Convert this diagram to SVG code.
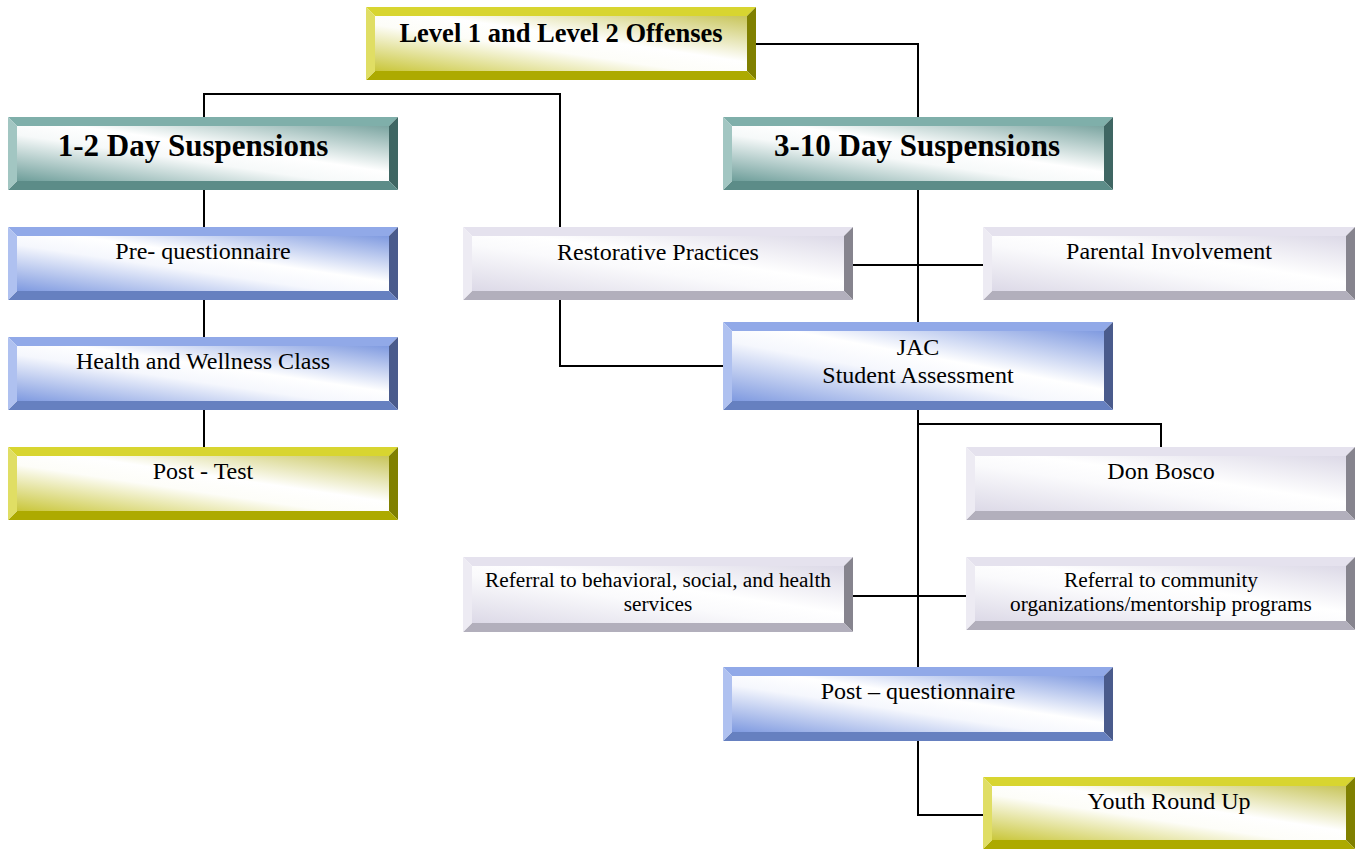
<svg xmlns="http://www.w3.org/2000/svg" width="1357" height="850" viewBox="0 0 1357 850">
<defs>
<linearGradient id="gY" x1="0" y1="1" x2="1" y2="0"><stop offset="0" stop-color="#C9C63A"/><stop offset="0.42" stop-color="#FDFDF8"/><stop offset="0.58" stop-color="#FFFFFF"/><stop offset="1" stop-color="#C8C55A"/></linearGradient>
<linearGradient id="gT" x1="0" y1="1" x2="1" y2="0"><stop offset="0" stop-color="#6E9E9A"/><stop offset="0.42" stop-color="#F6F9F9"/><stop offset="0.58" stop-color="#FFFFFF"/><stop offset="1" stop-color="#7BA5A1"/></linearGradient>
<linearGradient id="gB" x1="0" y1="1" x2="1" y2="0"><stop offset="0" stop-color="#7F9AE0"/><stop offset="0.42" stop-color="#F5F7FD"/><stop offset="0.58" stop-color="#FFFFFF"/><stop offset="1" stop-color="#7F9AE0"/></linearGradient>
<linearGradient id="gL" x1="0" y1="1" x2="1" y2="0"><stop offset="0" stop-color="#DCD9E7"/><stop offset="0.42" stop-color="#FAFAFC"/><stop offset="0.58" stop-color="#FFFFFF"/><stop offset="1" stop-color="#DCD9E7"/></linearGradient>
</defs>
<style>
.yel .t{fill:#D8D530}.yel .l{fill:#E0DE64}.yel .r{fill:#808000}.yel .b{fill:#ADAA00}.yel .i{fill:url(#gY)}
.teal .t{fill:#7FAFAA}.teal .l{fill:#A2C6C2}.teal .r{fill:#3F6663}.teal .b{fill:#5C8C88}.teal .i{fill:url(#gT)}
.blue .t{fill:#91A9E8}.blue .l{fill:#AFC1F0}.blue .r{fill:#4A5B8C}.blue .b{fill:#6680C0}.blue .i{fill:url(#gB)}
.lav .t{fill:#E5E2EE}.lav .l{fill:#EDEBF3}.lav .r{fill:#86848E}.lav .b{fill:#B2AFBC}.lav .i{fill:url(#gL)}
text{font-family:"Liberation Serif","Times New Roman",serif;fill:#000;text-anchor:middle}
.h1{font-size:31px;font-weight:bold}
.h2{font-size:26.5px;font-weight:bold}
.n{font-size:24px}
.s{font-size:21.3px}
.conn path{fill:none;stroke:#000;stroke-width:2}
</style>
<g class="conn" id="connectors">
<path d="M756,44 H918 V117"/>
<path d="M204,117 V94 H560 V227"/>
<path d="M204,190 V227"/>
<path d="M204,300 V337"/>
<path d="M204,410 V447"/>
<path d="M918,190 V322"/>
<path d="M853,265 H983"/>
<path d="M560,300 V366 H723"/>
<path d="M918,410 V667"/>
<path d="M918,424 H1161 V447"/>
<path d="M853,596 H966"/>
<path d="M918,741 V815 H983"/>
</g>
<g id="level" class="yel" transform="translate(366,7)">
<polygon class="t" points="0,0 390,0 381,9 9,9"/><polygon class="r" points="390,0 390,73 381,64 381,9"/><polygon class="b" points="0,73 390,73 381,64 9,64"/><polygon class="l" points="0,0 0,73 9,64 9,9"/><rect class="i" x="9" y="9" width="372" height="55"/>
<text class="h2" x="195" y="35">Level 1 and Level 2 Offenses</text>
</g>
<g id="day12" class="teal" transform="translate(8,117)">
<polygon class="t" points="0,0 390,0 381,9 9,9"/><polygon class="r" points="390,0 390,73 381,64 381,9"/><polygon class="b" points="0,73 390,73 381,64 9,64"/><polygon class="l" points="0,0 0,73 9,64 9,9"/><rect class="i" x="9" y="9" width="372" height="55"/>
<text class="h1" x="185" y="39">1-2 Day Suspensions</text>
</g>
<g id="day310" class="teal" transform="translate(723,117)">
<polygon class="t" points="0,0 390,0 381,9 9,9"/><polygon class="r" points="390,0 390,73 381,64 381,9"/><polygon class="b" points="0,73 390,73 381,64 9,64"/><polygon class="l" points="0,0 0,73 9,64 9,9"/><rect class="i" x="9" y="9" width="372" height="55"/>
<text class="h1" x="194" y="39">3-10 Day Suspensions</text>
</g>
<g id="preq" class="blue" transform="translate(8,227)">
<polygon class="t" points="0,0 390,0 381,9 9,9"/><polygon class="r" points="390,0 390,73 381,64 381,9"/><polygon class="b" points="0,73 390,73 381,64 9,64"/><polygon class="l" points="0,0 0,73 9,64 9,9"/><rect class="i" x="9" y="9" width="372" height="55"/>
<text class="n" x="195" y="32">Pre- questionnaire</text>
</g>
<g id="restorative" class="lav" transform="translate(463,227)">
<polygon class="t" points="0,0 390,0 381,9 9,9"/><polygon class="r" points="390,0 390,73 381,64 381,9"/><polygon class="b" points="0,73 390,73 381,64 9,64"/><polygon class="l" points="0,0 0,73 9,64 9,9"/><rect class="i" x="9" y="9" width="372" height="55"/>
<text class="n" x="195" y="33">Restorative Practices</text>
</g>
<g id="parental" class="lav" transform="translate(983,227)">
<polygon class="t" points="0,0 372,0 363,9 9,9"/><polygon class="r" points="372,0 372,73 363,64 363,9"/><polygon class="b" points="0,73 372,73 363,64 9,64"/><polygon class="l" points="0,0 0,73 9,64 9,9"/><rect class="i" x="9" y="9" width="354" height="55"/>
<text class="n" x="186" y="32">Parental Involvement</text>
</g>
<g id="health" class="blue" transform="translate(8,337)">
<polygon class="t" points="0,0 390,0 381,9 9,9"/><polygon class="r" points="390,0 390,73 381,64 381,9"/><polygon class="b" points="0,73 390,73 381,64 9,64"/><polygon class="l" points="0,0 0,73 9,64 9,9"/><rect class="i" x="9" y="9" width="372" height="55"/>
<text class="n" x="195" y="32">Health and Wellness Class</text>
</g>
<g id="jac" class="blue" transform="translate(723,322)">
<polygon class="t" points="0,0 390,0 381,9 9,9"/><polygon class="r" points="390,0 390,88 381,79 381,9"/><polygon class="b" points="0,88 390,88 381,79 9,79"/><polygon class="l" points="0,0 0,88 9,79 9,9"/><rect class="i" x="9" y="9" width="372" height="70"/>
<text class="n" x="195" y="33">JAC</text>
<text class="n" x="195" y="61">Student Assessment</text>
</g>
<g id="posttest" class="yel" transform="translate(8,447)">
<polygon class="t" points="0,0 390,0 381,9 9,9"/><polygon class="r" points="390,0 390,73 381,64 381,9"/><polygon class="b" points="0,73 390,73 381,64 9,64"/><polygon class="l" points="0,0 0,73 9,64 9,9"/><rect class="i" x="9" y="9" width="372" height="55"/>
<text class="n" x="195" y="32">Post - Test</text>
</g>
<g id="donbosco" class="lav" transform="translate(966,447)">
<polygon class="t" points="0,0 389,0 380,9 9,9"/><polygon class="r" points="389,0 389,73 380,64 380,9"/><polygon class="b" points="0,73 389,73 380,64 9,64"/><polygon class="l" points="0,0 0,73 9,64 9,9"/><rect class="i" x="9" y="9" width="371" height="55"/>
<text class="n" x="195" y="32">Don Bosco</text>
</g>
<g id="refbeh" class="lav" transform="translate(463,557)">
<polygon class="t" points="0,0 390,0 381,9 9,9"/><polygon class="r" points="390,0 390,75 381,66 381,9"/><polygon class="b" points="0,75 390,75 381,66 9,66"/><polygon class="l" points="0,0 0,75 9,66 9,9"/><rect class="i" x="9" y="9" width="372" height="57"/>
<text class="s" x="195" y="30">Referral to behavioral, social, and health</text>
<text class="s" x="195" y="54">services</text>
</g>
<g id="refcom" class="lav" transform="translate(966,557)">
<polygon class="t" points="0,0 389,0 380,9 9,9"/><polygon class="r" points="389,0 389,73 380,64 380,9"/><polygon class="b" points="0,73 389,73 380,64 9,64"/><polygon class="l" points="0,0 0,73 9,64 9,9"/><rect class="i" x="9" y="9" width="371" height="55"/>
<text class="s" x="195" y="30">Referral to community</text>
<text class="s" x="195" y="54">organizations/mentorship programs</text>
</g>
<g id="postq" class="blue" transform="translate(723,667)">
<polygon class="t" points="0,0 390,0 381,9 9,9"/><polygon class="r" points="390,0 390,74 381,65 381,9"/><polygon class="b" points="0,74 390,74 381,65 9,65"/><polygon class="l" points="0,0 0,74 9,65 9,9"/><rect class="i" x="9" y="9" width="372" height="56"/>
<text class="n" x="195" y="32">Post – questionnaire</text>
</g>
<g id="youth" class="yel" transform="translate(983,777)">
<polygon class="t" points="0,0 372,0 363,9 9,9"/><polygon class="r" points="372,0 372,72 363,63 363,9"/><polygon class="b" points="0,72 372,72 363,63 9,63"/><polygon class="l" points="0,0 0,72 9,63 9,9"/><rect class="i" x="9" y="9" width="354" height="54"/>
<text class="n" x="186" y="32">Youth Round Up</text>
</g>
</svg>
